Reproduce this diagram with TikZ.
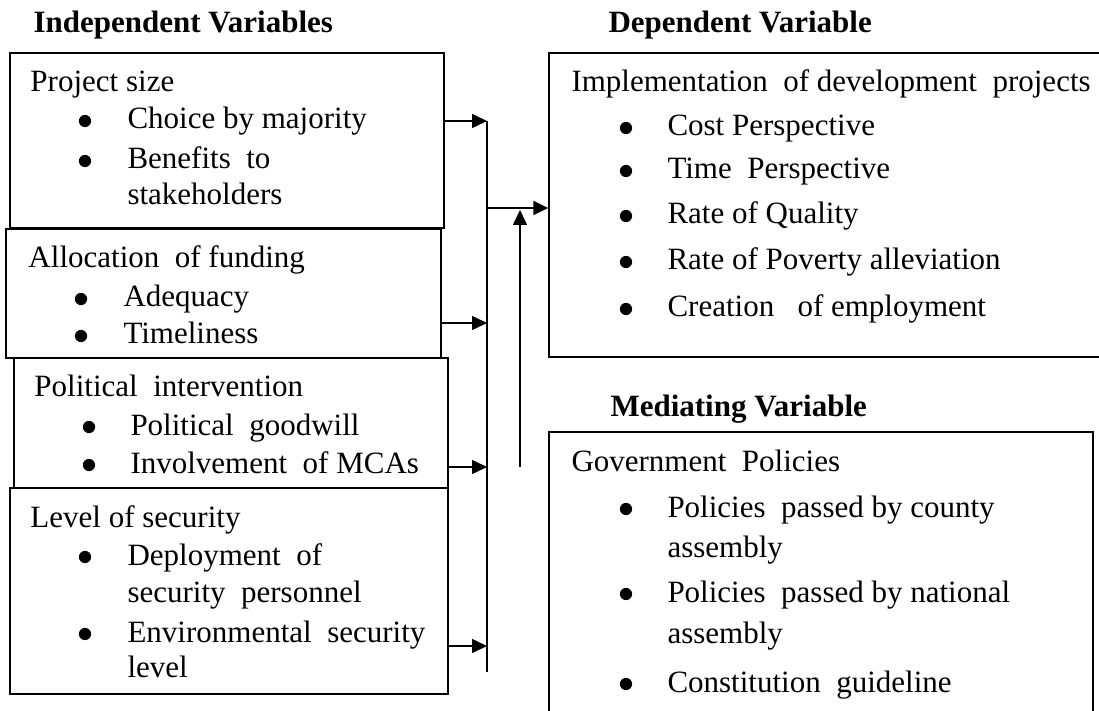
\documentclass[tikz,border=0pt]{standalone}
\usepackage{fontspec}
\setmainfont{Liberation Serif}
\usetikzlibrary{arrows.meta,fit}
\begin{document}
\begin{tikzpicture}[x=0.4pt,y=-0.4pt,
  box/.style={draw,line width=0.55pt,inner sep=0pt},
  txt/.style={anchor=base west,inner sep=0pt,font=\fontsize{12.4}{15}\selectfont},
  hdr/.style={anchor=base west,inner sep=0pt,font=\fontsize{12.4}{15}\selectfont\bfseries},
  bul/.style={circle,fill=black,inner sep=0pt,minimum size=4.9pt},
  arr/.style={line width=0.6pt,-{Triangle[length=6pt,width=5.6pt]}},
  busline/.style={line width=0.6pt}]
\useasboundingbox (0,0) rectangle (1099,711);
\clip (0,0) rectangle (1099,711);

% headers
\node[hdr] (h1) at (33,33) {Independent Variables};
\node[hdr] (h2) at (608,33) {Dependent Variable};
\node[hdr] (h3) at (610,417) {Mediating Variable};

% boxes
\node[box,fit={(10,53) (444,228)}] (b1) {};
\node[box,fit={(6,229) (441,358)}] (b2) {};
\node[box,fit={(14,358) (448,488)}] (b3) {};
\node[box,fit={(10,488) (448,694)}] (b4) {};
\node[box,fit={(549,53) (1115,357)}] (dep) {};
\node[box,fit={(549,432) (1093,725)}] (med) {};

% box 1
\node[txt] (t11) at (30,92) {Project size};
\node[bul] (u11) at (85,121) {};
\node[txt] (t12) at (127,129) {Choice by majority};
\node[bul] (u12) at (85,161) {};
\node[txt] (t13) at (127,169) {Benefits\ \ to};
\node[txt] (t14) at (127,205) {stakeholders};

% box 2
\node[txt] (t21) at (28,268) {Allocation\ \ of funding};
\node[bul] (u21) at (81,299) {};
\node[txt] (t22) at (123,307) {Adequacy};
\node[bul] (u22) at (81,336) {};
\node[txt] (t23) at (123,344) {Timeliness};

% box 3
\node[txt] (t31) at (34,397) {Political\ \ intervention};
\node[bul] (u31) at (89,427) {};
\node[txt] (t32) at (130,435) {Political\ \ goodwill};
\node[bul] (u32) at (89,465) {};
\node[txt] (t33) at (130,473) {Involvement\ \ of MCAs};

% box 4
\node[txt] (t41) at (30,527) {Level of security};
\node[bul] (u41) at (85,557) {};
\node[txt] (t42) at (127,565) {Deployment\ \ of};
\node[txt] (t43) at (127,602) {security\ \ personnel};
\node[bul] (u42) at (85,634) {};
\node[txt] (t44) at (127,642) {Environmental\ \ security};
\node[txt] (t45) at (127,677) {level};

% dependent
\node[txt] (d0) at (571,92) {Implementation\ \ of development\ \ projects};
\node[bul] (v1) at (626,128) {};
\node[txt] (d1) at (667,136) {Cost Perspective};
\node[bul] (v2) at (626,171) {};
\node[txt] (d2) at (667,179) {Time\ \ Perspective};
\node[bul] (v3) at (626,216) {};
\node[txt] (d3) at (667,224) {Rate of Quality};
\node[bul] (v4) at (626,262) {};
\node[txt] (d4) at (667,270) {Rate of Poverty alleviation};
\node[bul] (v5) at (626,309) {};
\node[txt] (d5) at (667,317) {Creation\ \ \ of employment};

% mediating
\node[txt] (m0) at (571,472) {Government\ \ Policies};
\node[bul] (w1) at (626,509) {};
\node[txt] (m1) at (667,517) {Policies\ \ passed by county};
\node[txt] (m2) at (667,557) {assembly};
\node[bul] (w2) at (626,594) {};
\node[txt] (m3) at (667,602) {Policies\ \ passed by national};
\node[txt] (m4) at (667,643) {assembly};
\node[bul] (w3) at (626,684) {};
\node[txt] (m5) at (667,692) {Constitution\ \ guideline};

% connectors
\coordinate (j1) at (487,121);
\coordinate (j2) at (487,323);
\coordinate (j3) at (487,467);
\coordinate (j4) at (487,646);
\coordinate (jb) at (487,672);
\coordinate (jm) at (487,208);
\coordinate (us) at (520,467);
\coordinate (ut) at (520,210);

\draw[busline] (j1) -- (jb);
\draw[arr] (b1.east |- j1) -- (j1);
\draw[arr] (b2.east |- j2) -- (j2);
\draw[arr] (b3.east |- j3) -- (j3);
\draw[arr] (b4.east |- j4) -- (j4);
\draw[arr] (jm) -- (dep.west |- jm);
\draw[arr] (us) -- (ut);
\end{tikzpicture}
\end{document}
